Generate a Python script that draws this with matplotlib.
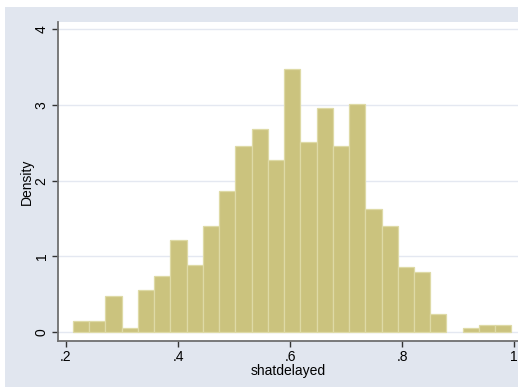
import numpy as np
import matplotlib
matplotlib.use("Agg")
from matplotlib import pyplot as plt
from matplotlib.patches import Rectangle

# histogram of shatdelayed: 27 bins starting at the minimum value
bin_start = 0.2125
bin_width = 0.02899
densities = [0.149, 0.149, 0.470, 0.057, 0.558, 0.743, 1.209, 0.879, 1.394,
             1.865, 2.459, 2.684, 2.275, 3.476, 2.512, 2.961, 2.459, 3.014,
             1.628, 1.394, 0.853, 0.796, 0.242, 0.0, 0.057, 0.096, 0.096]
x_ticks = [0.2, 0.4, 0.6, 0.8, 1.0]
x_labels = [".2", ".4", ".6", ".8", "1"]
y_ticks = [0, 1, 2, 3, 4]
y_labels = ["0", "1", "2", "3", "4"]

plt.rcParams['font.family'] = ['Liberation Sans', 'DejaVu Sans']

dpi = 100
fig = plt.figure(figsize=(518 / dpi, 387 / dpi), dpi=dpi, facecolor="white")
fig.add_artist(Rectangle((5 / 518, 0), 1, 1 - 7 / 387, transform=fig.transFigure,
                         facecolor="#e1e6ef", edgecolor="none", zorder=-10))

ax = fig.add_axes([58 / 518, 1 - 341 / 387, 1 - 58 / 518, (341 - 22) / 387])
ax.set_zorder(1)
ax.set_facecolor("white")

lefts = bin_start + bin_width * np.arange(len(densities))
bars = ax.bar(lefts, densities, width=bin_width, align="edge", color="#cbc37e",
              edgecolor="#dedaa6", linewidth=0.9, zorder=2)
for b, d in zip(bars, densities):
    if d == 0:
        b.set_visible(False)

ax.set_xlim(0.1857, 1.007)
ax.set_ylim(-0.119, 4.096)

ax.set_yticks(y_ticks)
ax.set_yticklabels(y_labels, rotation=90, va="center")
ax.set_xticks(x_ticks)
ax.set_xticklabels(x_labels)
for y in y_ticks:
    ax.axhline(y, color="#e4e8f1", linewidth=1, zorder=1)

for side in ["top", "right"]:
    ax.spines[side].set_visible(False)
for side in ["left", "bottom"]:
    ax.spines[side].set_color("#707070")
    ax.spines[side].set_linewidth(1.3)

ax.tick_params(axis="both", colors="black", labelsize=10, length=4.3, width=1, pad=2.5)
ax.tick_params(axis="both", color="#333333")

ax.set_xlabel("shatdelayed", fontsize=10)
ax.set_ylabel("Density", fontsize=10)
ax.xaxis.set_label_coords(0.5, -0.072)
ax.yaxis.set_label_coords(-0.052, 0.5)

fig.savefig("out.png", dpi=dpi)
